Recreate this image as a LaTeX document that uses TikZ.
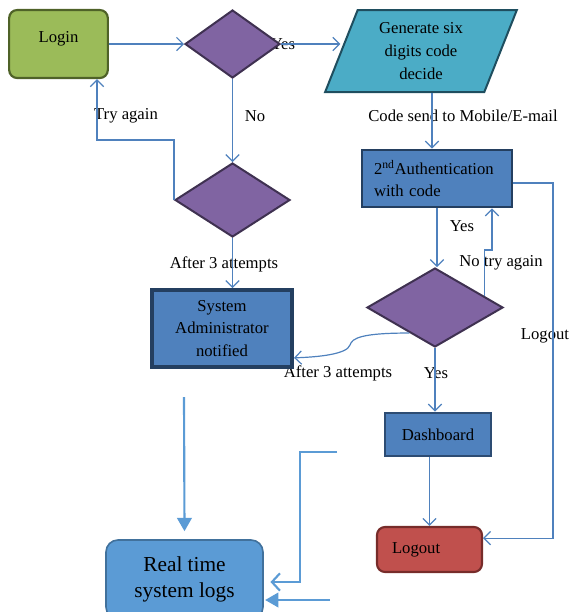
\documentclass[tikz,border=0pt]{standalone}
\usepackage{fontspec}
\setmainfont{Liberation Serif}
\usetikzlibrary{shapes.geometric,arrows.meta}

\definecolor{linkblue}{HTML}{4F81BD}
\definecolor{logsblue}{HTML}{5B9BD5}
\definecolor{logsedge}{HTML}{41719C}
\definecolor{procblue}{HTML}{4F81BD}
\definecolor{procedge}{HTML}{243F60}
\definecolor{loginfill}{HTML}{9BBB59}
\definecolor{loginedge}{HTML}{4F6228}
\definecolor{decfill}{HTML}{8064A2}
\definecolor{decedge}{HTML}{3F3151}
\definecolor{genfill}{HTML}{4BACC6}
\definecolor{genedge}{HTML}{1F4E5F}
\definecolor{outfill}{HTML}{C0504D}
\definecolor{outedge}{HTML}{772C2A}

\begin{document}
\begin{tikzpicture}[
  x=0.75pt, y=-0.75pt,
  every node/.style={font=\fontsize{12.5}{17}\selectfont},
  startbox/.style={draw=loginedge, fill=loginfill, line width=1.6pt, rounded corners=6pt,
    minimum width=74pt, minimum height=51pt, text depth=11pt},
  decision/.style={diamond, draw=decedge, fill=decfill, line width=1.5pt, inner sep=0pt},
  iobox/.style={trapezium, trapezium left angle=70, trapezium right angle=110,
    trapezium stretches=true, draw=genedge, fill=genfill, line width=1.5pt, align=center},
  procbox/.style={draw=procedge, fill=procblue, line width=2.2pt, inner sep=0pt},
  endbox/.style={draw=outedge, fill=outfill, line width=1.6pt, rounded corners=6pt},
  logbox/.style={draw=logsedge, fill=logsblue, line width=1.2pt, rounded corners=9pt,
    align=center, font=\fontsize{16}{19}\selectfont},
  conn/.style={draw=linkblue, line width=0.9pt, -{Straight Barb[length=5pt,width=10pt]}},
  feedopen/.style={draw=logsblue, line width=1.6pt, -{Straight Barb[length=6pt,width=13pt]}},
  feedfill/.style={draw=logsblue, line width=1.6pt, -{Triangle[length=10pt,width=11pt]}}
]
  \useasboundingbox (0,0) rectangle (569,612);
  \clip (0,0) rectangle (569,612);

  % labels first, so the first Yes hides behind the diamond
  \node (yes1) at (283,44) {Yes};
  \node (no1) at (255,116) {No};
  \node (tryagain) at (126,116) {Try again};
  \node (codesend) at (463,116) {Code send to Mobile/E-mail};
  \node (after1) at (224,264) {After 3 attempts};
  \node (yes2) at (462,226) {Yes};
  \node (notry) at (501,263) {No try again};
  \node (logoutlbl) at (545,336) {Logout};
  \node (after2) at (338,373) {After 3 attempts};
  \node (yes3) at (436,373) {Yes};

  \node[startbox] (login) at (58.5,44) {Login};
  \node[decision, minimum width=71.25pt, minimum height=51pt] (dia1) at (232.5,44) {};
  \node[iobox, minimum width=144pt, minimum height=61.5pt] (gen) at (421,51)
    {Generate six\\digits code\\decide};
  \node[procbox, minimum width=112.5pt, minimum height=42.75pt, text width=94.5pt,
    align=left] (auth) at (437,178.5) {2\textsuperscript{nd}Authentication\\with code};
  \node[decision, minimum width=86.25pt, minimum height=55.5pt] (dia2) at (232.5,200) {};
  \node[procbox, line width=3pt, minimum width=105pt, minimum height=57.75pt,
    align=center] (sysadm) at (222,328.5) {System\\Administrator\\notified};
  \node[decision, minimum width=102pt, minimum height=59.25pt] (dia3) at (435,307.5) {};
  \node[procbox, draw=procedge!80!procblue, line width=2pt, minimum width=79.5pt,
    minimum height=32.25pt] (dash) at (438,434.5) {Dashboard};
  \node[endbox, minimum width=78.75pt, minimum height=33.75pt, inner xsep=11.25pt,
    text width=56.25pt, align=left] (logout) at (429.5,549.5) {Logout};
  \node[logbox, minimum width=117.75pt, minimum height=59.25pt] (logs) at (184.5,579.5)
    {Real time\\system logs};

  \coordinate (tryturn) at (97,140);
  \coordinate (jog) at (492,250);
  \coordinate (rail) at (553,400);
  \coordinate (admgap) at (184,397);
  \coordinate (dashfeed) at (337,452);
  \coordinate (feedturn) at (300,582);
  \coordinate (logfeed) at (330,600);

  \draw[conn] (login.east) -- (dia1.west);
  \draw[conn] (dia1.east) -- (dia1.east -| gen.west);
  \draw[conn] ([xshift=8.25pt]gen.south) -- ([xshift=8.25pt]gen.south |- auth.north);
  \draw[conn] (dia1.south) -- (dia2.north);
  \draw[conn] (dia2.west) |- (tryturn) -- (tryturn |- login.south);
  \draw[conn] (dia2.south) -- (dia2.south |- sysadm.north);
  \draw[conn] (auth.south) -- (auth.south |- dia3.north);
  \draw[conn] (dia3.13) |- (jog) -- (jog |- auth.south);
  \draw[conn] ([yshift=-3.4pt]auth.east) -| (rail) |- ([yshift=8.5pt]logout.east);
  \draw[conn] (dia3.-135) .. controls (362,333) and (352,338) .. (350,345)
    .. controls (347,354) and (320,357) .. ([yshift=-22pt]sysadm.east);
  \draw[conn] (dia3.south) -- (dia3.south |- dash.north);
  \draw[conn] (logout.north |- dash.south) -- (logout.north);

  \draw[feedfill] (admgap) -- ([yshift=6pt]logs.north);
  \draw[feedopen] (dashfeed) -| (feedturn) -- ([xshift=5pt]logs.east |- feedturn);
  \draw[feedfill] (logfeed) -- ([xshift=1pt]logs.east |- logfeed);
\end{tikzpicture}
\end{document}
